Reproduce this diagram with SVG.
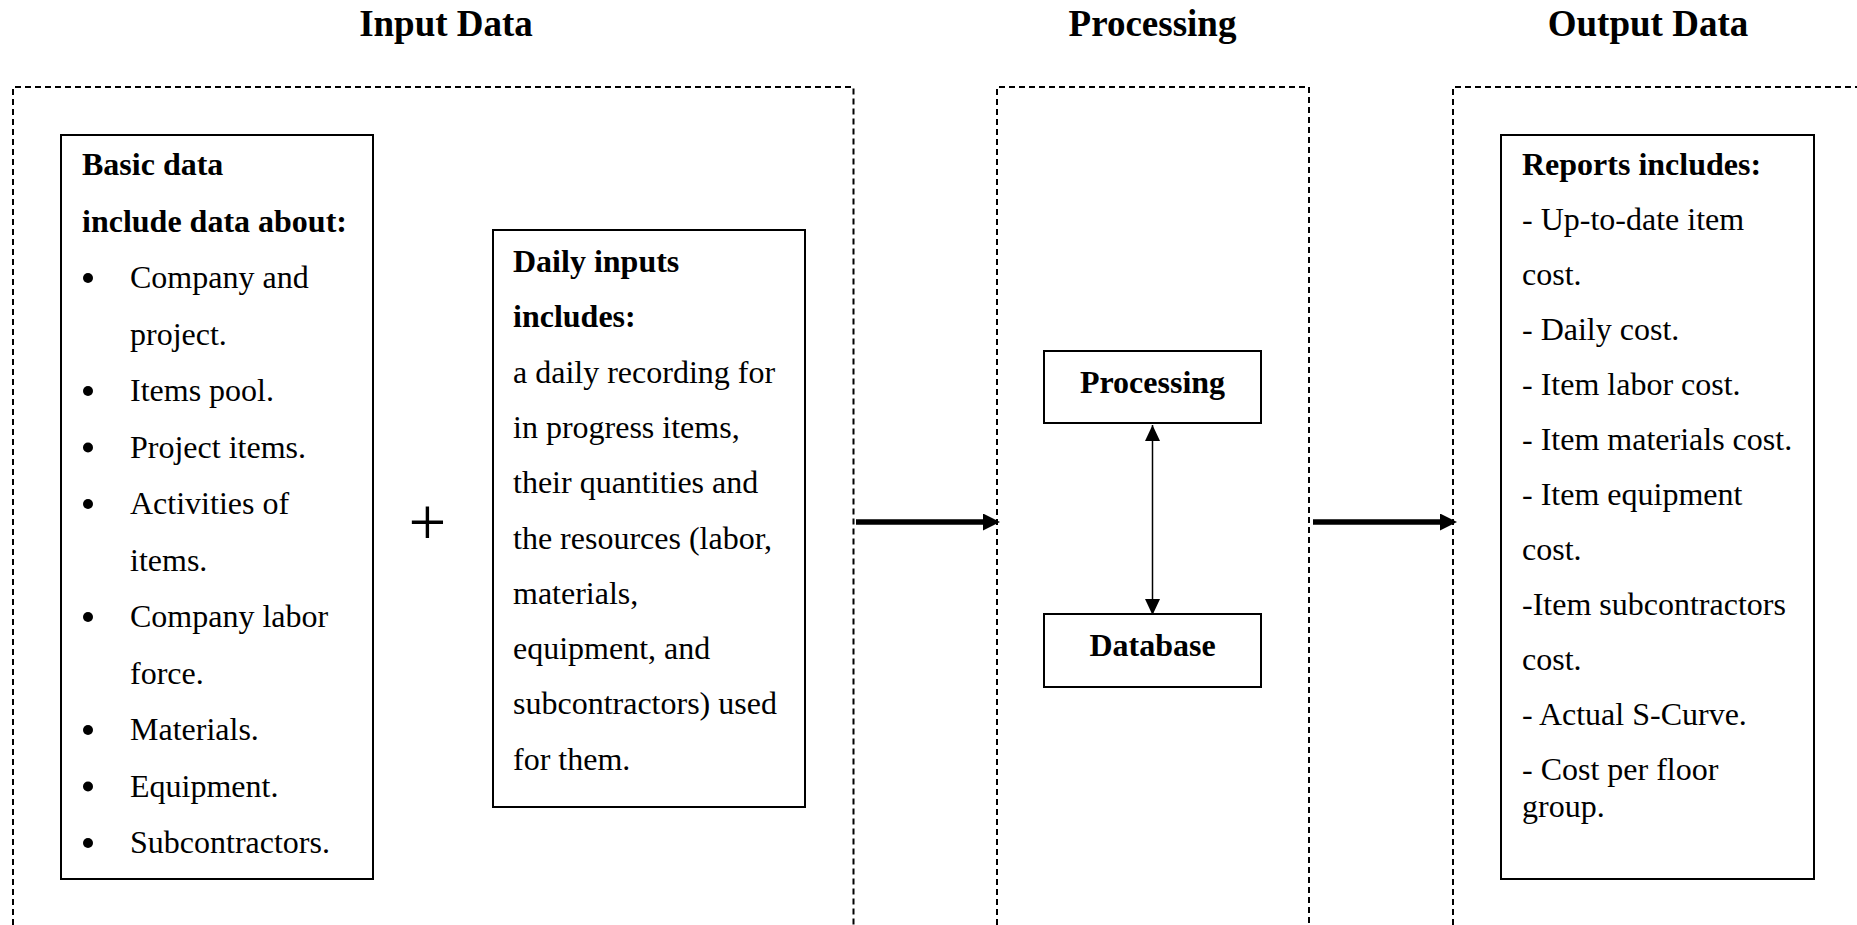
<svg xmlns="http://www.w3.org/2000/svg" width="1857" height="925" viewBox="0 0 1857 925">
<style>
  text { font-family: "Liberation Serif", "Times New Roman", serif; fill: #000; }
  .title { font-size: 37px; font-weight: bold; text-anchor: middle; }
  .body { font-size: 32px; }
  .bold { font-size: 32px; font-weight: bold; }
  .ctr { text-anchor: middle; }
  .dash { fill: none; stroke: #000; stroke-width: 2; stroke-dasharray: 6 4; }
  .box { fill: #fff; stroke: #000; stroke-width: 2; }
  .thick { stroke: #000; stroke-width: 5.5; fill: none; }
  .thin { stroke: #000; stroke-width: 1.5; fill: none; }
</style>
<defs>
  <marker id="bigHead" markerUnits="userSpaceOnUse" markerWidth="18" markerHeight="18" refX="1" refY="8.5" orient="auto">
    <path d="M0,0 L17,8.5 L0,17 z" fill="#000"/>
  </marker>
  <marker id="smallHead" markerUnits="userSpaceOnUse" markerWidth="17" markerHeight="16" refX="16" refY="7.5" orient="auto-start-reverse">
    <path d="M0,0 L16,7.5 L0,15 z" fill="#000"/>
  </marker>
</defs>
<rect width="1857" height="925" fill="#fff"/>

<g id="titles">
  <text class="title" x="446" y="36">Input Data</text>
  <text class="title" x="1152.5" y="36">Processing</text>
  <text class="title" x="1648" y="36">Output Data</text>
</g>

<g id="panels">
  <path class="dash" d="M13,935 V87 H853.5 V935"/>
  <path class="dash" d="M997,935 V87 H1309 V935"/>
  <path class="dash" d="M1453,935 V87 H1867"/>
</g>

<g id="connectors">
  <line class="thick" x1="856" y1="522" x2="984" y2="522" marker-end="url(#bigHead)"/>
  <line class="thick" x1="1313" y1="522" x2="1441" y2="522" marker-end="url(#bigHead)"/>
  <line class="thin" x1="1152.5" y1="425" x2="1152.5" y2="615" marker-start="url(#smallHead)" marker-end="url(#smallHead)"/>
</g>

<g id="basic-data">
  <rect class="box" x="61" y="135" width="312" height="744"/>
  <text class="bold" x="82" y="175">Basic data</text>
  <text class="bold" x="82" y="231.5">include data about:</text>
  <g fill="#000">
    <circle cx="88" cy="278" r="5"/>
    <circle cx="88" cy="391" r="5"/>
    <circle cx="88" cy="447.5" r="5"/>
    <circle cx="88" cy="504" r="5"/>
    <circle cx="88" cy="617" r="5"/>
    <circle cx="88" cy="730" r="5"/>
    <circle cx="88" cy="786.5" r="5"/>
    <circle cx="88" cy="843" r="5"/>
  </g>
  <text class="body" x="130" y="288">Company and</text>
  <text class="body" x="130" y="344.5">project.</text>
  <text class="body" x="130" y="401">Items pool.</text>
  <text class="body" x="130" y="457.5">Project items.</text>
  <text class="body" x="130" y="514">Activities of</text>
  <text class="body" x="130" y="570.5">items.</text>
  <text class="body" x="130" y="627">Company labor</text>
  <text class="body" x="130" y="683.5">force.</text>
  <text class="body" x="130" y="740">Materials.</text>
  <text class="body" x="130" y="796.5">Equipment.</text>
  <text class="body" x="130" y="853">Subcontractors.</text>
</g>

<g id="plus">
  <text x="427.5" y="545" style="font-size:67px" text-anchor="middle">+</text>
</g>

<g id="daily-inputs">
  <rect class="box" x="493" y="230" width="312" height="577"/>
  <text class="bold" x="513" y="272">Daily inputs</text>
  <text class="bold" x="513" y="327.3">includes:</text>
  <text class="body" x="513" y="382.6">a daily recording for</text>
  <text class="body" x="513" y="437.9">in progress items,</text>
  <text class="body" x="513" y="493.2">their quantities and</text>
  <text class="body" x="513" y="548.5">the resources (labor,</text>
  <text class="body" x="513" y="603.8">materials,</text>
  <text class="body" x="513" y="659.1">equipment, and</text>
  <text class="body" x="513" y="714.4">subcontractors) used</text>
  <text class="body" x="513" y="769.7">for them.</text>
</g>

<g id="processing">
  <rect class="box" x="1044" y="351" width="217" height="72"/>
  <text class="bold ctr" x="1152.5" y="393">Processing</text>
</g>

<g id="database">
  <rect class="box" x="1044" y="614" width="217" height="73"/>
  <text class="bold ctr" x="1152.5" y="656">Database</text>
</g>

<g id="reports">
  <rect class="box" x="1501" y="135" width="313" height="744"/>
  <text class="bold" x="1522" y="175">Reports includes:</text>
  <text class="body" x="1522" y="230">- Up-to-date item</text>
  <text class="body" x="1522" y="285">cost.</text>
  <text class="body" x="1522" y="340">- Daily cost.</text>
  <text class="body" x="1522" y="395">- Item labor cost.</text>
  <text class="body" x="1522" y="450">- Item materials cost.</text>
  <text class="body" x="1522" y="505">- Item equipment</text>
  <text class="body" x="1522" y="560">cost.</text>
  <text class="body" x="1522" y="615">-Item subcontractors</text>
  <text class="body" x="1522" y="670">cost.</text>
  <text class="body" x="1522" y="725">- Actual S-Curve.</text>
  <text class="body" x="1522" y="780">- Cost per floor</text>
  <text class="body" x="1522" y="817">group.</text>
</g>
</svg>
